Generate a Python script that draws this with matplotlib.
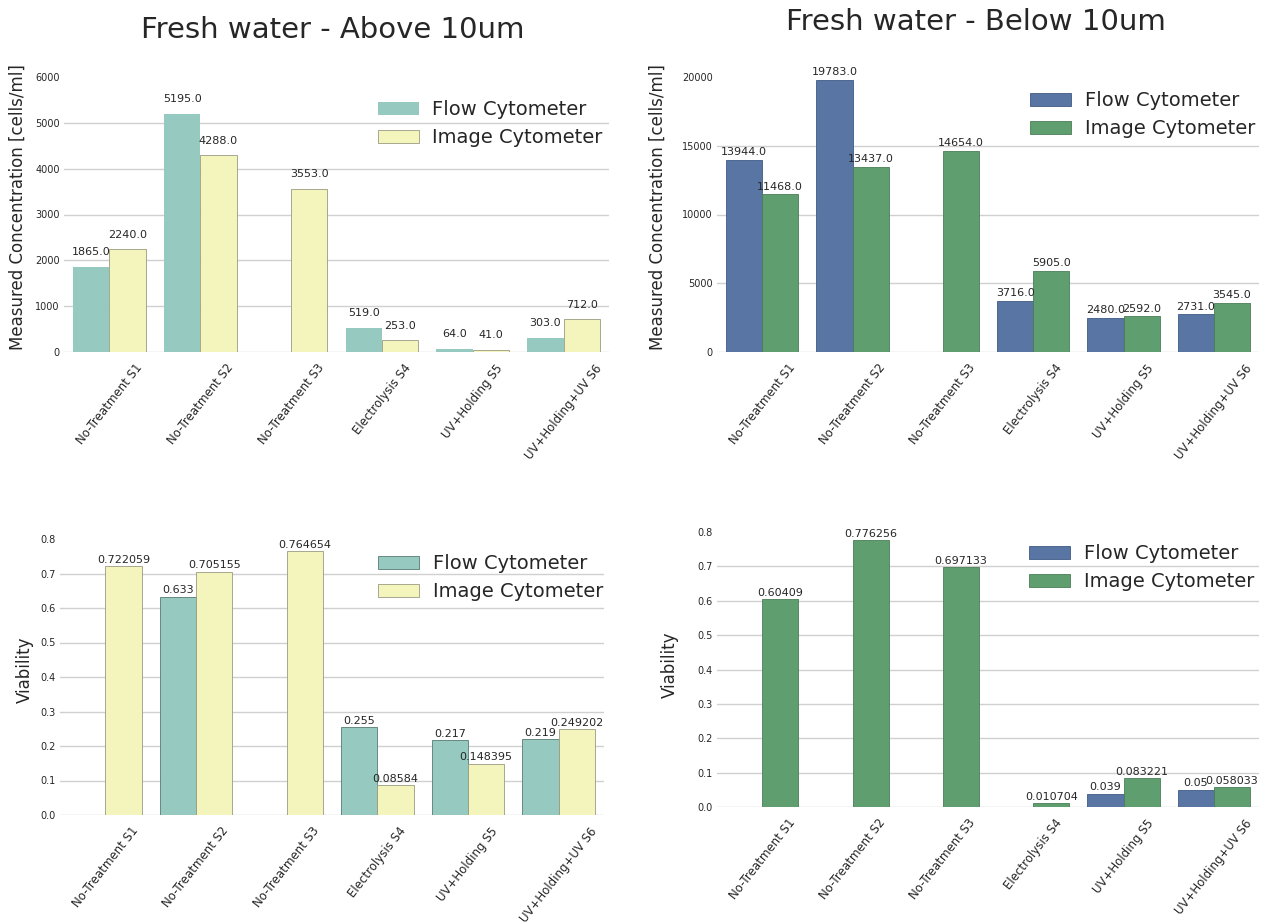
import numpy as np
import matplotlib
matplotlib.use("Agg")
import matplotlib.pyplot as plt

nan = np.nan
categories = ["No-Treatment S1", "No-Treatment S2", "No-Treatment S3",
              "Electrolysis S4", "UV+Holding S5", "UV+Holding+UV S6"]
series_names = ["Flow Cytometer", "Image Cytometer"]

above_flow_conc = [1865, 5195, nan, 519, 64, 303]
above_image_conc = [2240, 4288, 3553, 253, 41, 712]
below_flow_conc = [13944, 19783, nan, 3716, 2480, 2731]
below_image_conc = [11468, 13437, 14654, 5905, 2592, 3545]
above_flow_via = [nan, 0.633, nan, 0.255, 0.217, 0.219]
above_image_via = [0.722059, 0.705155, 0.764654, 0.08584, 0.148395, 0.249202]
below_flow_via = [nan, nan, nan, nan, 0.039, 0.05]
below_image_via = [0.60409, 0.776256, 0.697133, 0.010704, 0.083221, 0.058033]

above_colors = ["#96CAC0", "#F4F4BD"]
below_colors = ["#5875A4", "#5F9E6E"]

plt.rcParams['font.family'] = ['DejaVu Sans']
TXT = "#262626"

fig = plt.figure(figsize=(12.61, 9.23), dpi=100)
W, H = 1261, 923


def ax_at(l, t, r, b):
    return fig.add_axes([l / W, 1 - b / H, (r - l) / W, (b - t) / H])


def draw(ax, flow, image, colors, ylim, step, fmt, lab_off, leg_anchor, edge):
    x = np.arange(len(categories))
    ax.set_axisbelow(True)
    b1 = ax.bar(x - 0.2, flow, 0.4, color=colors[0], label=series_names[0],
                edgecolor=edge[0], linewidth=0.6)
    b2 = ax.bar(x + 0.2, image, 0.4, color=colors[1], label=series_names[1],
                edgecolor=edge[1], linewidth=0.6)
    for bars, vals in ((b1, flow), (b2, image)):
        for rect, v in zip(bars, vals):
            if np.isnan(v):
                continue
            ax.annotate(fmt(v), (rect.get_x() + rect.get_width() / 2, v),
                        xytext=(0, lab_off), textcoords="offset points",
                        ha="center", va="bottom", fontsize=8, color=TXT)
    ax.set_xlim(-0.5, len(categories) - 0.5)
    ax.set_ylim(*ylim)
    ax.set_yticks(np.arange(ylim[0], ylim[1] + step / 2, step))
    ax.set_xticks(x)
    ax.set_xticklabels(categories, rotation=52, ha="center", fontsize=8.5, color=TXT)
    ax.tick_params(axis="y", labelsize=7, colors=TXT, length=0, pad=3)
    ax.tick_params(axis="x", length=0, pad=7)
    for s in ax.spines.values():
        s.set_visible(False)
    ax.grid(axis="y", color="#D0D0D0", linewidth=1)
    ax.grid(axis="x", visible=False)
    gl = ax.get_ygridlines()
    gl[-1].set_visible(False)
    leg = ax.legend(loc="upper left", bbox_to_anchor=leg_anchor, frameon=False,
                    fontsize=14, borderaxespad=0, borderpad=0, labelspacing=0.45,
                    handlelength=2.1, handleheight=0.65, handletextpad=0.7)
    for t in leg.get_texts():
        t.set_color(TXT)


conc_fmt = lambda v: f"{float(v):.1f}"
via_fmt = lambda v: str(float(v))

ax1 = ax_at(64, 77, 609, 352)
draw(ax1, above_flow_conc, above_image_conc, above_colors, (0, 6000), 1000,
     conc_fmt, 7, (0.576, 0.915), ("none", "#9A9A80"))
ax2 = ax_at(717, 77, 1259, 352)
draw(ax2, below_flow_conc, below_image_conc, below_colors, (0, 20000), 5000,
     conc_fmt, 2, (0.578, 0.948), ("#3F5A85", "#4A7D57"))
ax3 = ax_at(60, 539, 604, 815)
draw(ax3, above_flow_via, above_image_via, above_colors, (0, 0.8), 0.1,
     via_fmt, 1, (0.585, 0.945), ("#557A73", "#9A9A80"))
ax4 = ax_at(717, 532, 1259, 807)
draw(ax4, below_flow_via, below_image_via, below_colors, (0, 0.8), 0.1,
     via_fmt, 1, (0.576, 0.955), ("#3F5A85", "#4A7D57"))

fig.text(333 / W, 1 - 30 / H, "Fresh water - Above 10um", ha="center", va="center",
         fontsize=21, color=TXT)
fig.text(976 / W, 1 - 22 / H, "Fresh water - Below 10um", ha="center", va="center",
         fontsize=21, color=TXT)

fig.text(18 / W, 1 - 207 / H, "Measured Concentration [cells/ml]", rotation=90,
         ha="center", va="center", fontsize=12, color=TXT)
fig.text(658 / W, 1 - 207 / H, "Measured Concentration [cells/ml]", rotation=90,
         ha="center", va="center", fontsize=12, color=TXT)
fig.text(25 / W, 1 - 670 / H, "Viability", rotation=90,
         ha="center", va="center", fontsize=12, color=TXT)
fig.text(670 / W, 1 - 665 / H, "Viability", rotation=90,
         ha="center", va="center", fontsize=12, color=TXT)

fig.savefig("out.png", dpi=100, facecolor="white")
